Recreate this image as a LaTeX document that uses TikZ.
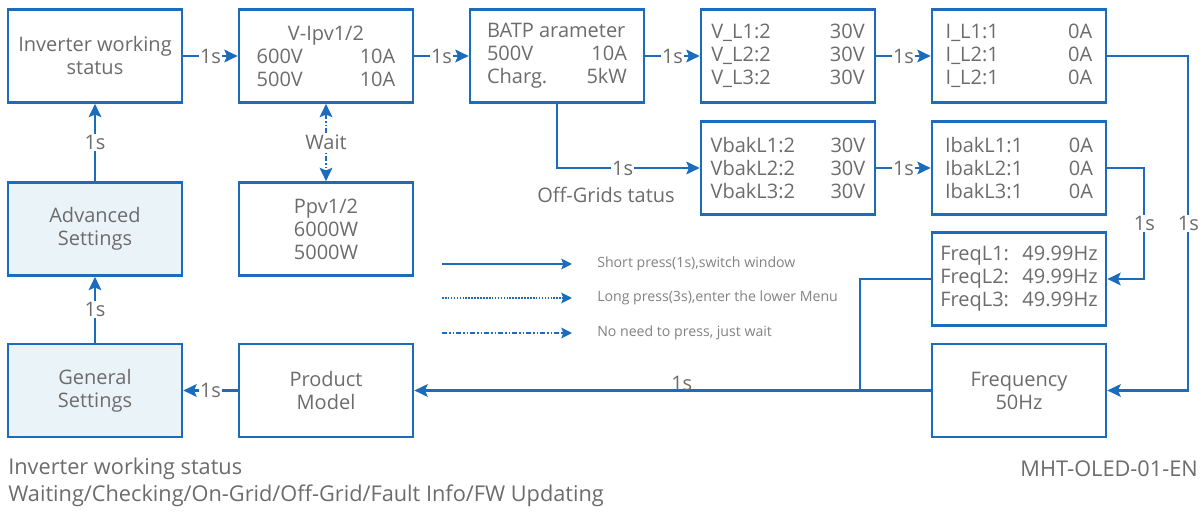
\documentclass[tikz,border=0pt]{standalone}
\usepackage{fontspec}
\setmainfont{Open Sans}
\usetikzlibrary{arrows.meta}
\definecolor{lblue}{RGB}{28,108,190}
\definecolor{tgray}{RGB}{108,108,108}
\definecolor{lgray}{RGB}{130,130,130}
\definecolor{pfill}{RGB}{234,244,248}
\newcommand\LR[3]{\hbox to #1pt{#2\hfil #3}}
\begin{document}
\begin{tikzpicture}[x=0.75pt,y=-0.75pt,
  box/.style={draw=lblue, line width=2pt, minimum width=130.5pt, minimum height=69.75pt,
    inner sep=0pt, align=center, text=tgray, font=\fontsize{15}{17.25}\selectfont},
  pale/.style={box, fill=pfill},
  conn/.style={draw=lblue, line width=1.6pt, -{Stealth[length=10pt,width=9.5pt,inset=2pt]}},
  wire/.style={draw=lblue, line width=1.6pt},
  lab/.style={fill=white, inner sep=1pt, text=tgray, font=\fontsize{15}{17}\selectfont},
  legtxt/.style={anchor=west, text=lgray, font=\fontsize{10.6}{12}\selectfont, inner sep=0pt},
  legarrow/.style={draw=lblue, line width=1.4pt, -{Stealth[length=8pt,width=8pt,inset=1.5pt]}},
  dashdotdot/.style={dash pattern=on 4pt off 1.5pt on 1pt off 1.5pt on 1pt off 1.5pt},
  denseDots/.style={dash pattern=on 1.2pt off 1pt},
  plain/.style={text=tgray, inner sep=0pt}
]
\useasboundingbox (0,0) rectangle (1204,513);
\fill[white] (0,0) rectangle (1204,513);

% boxes
\node[box]  (inv)  at (95,56)   {Inverter working\\status};
\node[box]  (vipv) at (326,56)  {V-Ipv1/2\\\LR{104}{600V}{10A}\\\LR{104}{500V}{10A}};
\node[box]  (bat)  at (557,56)  {\LR{105}{BATP arameter}{}\\\LR{105}{500V}{10A}\\\LR{105}{Charg.}{5kW}};
\node[box]  (vl)   at (788,56)  {\LR{115}{V\_L1:2}{30V}\\\LR{115}{V\_L2:2}{30V}\\\LR{115}{V\_L3:2}{30V}};
\node[box]  (il)   at (1019,56) {\LR{110}{I\_L1:1}{0A}\\\LR{110}{I\_L2:1}{0A}\\\LR{110}{I\_L2:1}{0A}};
\node[box]  (vbak) at (788,168) {\LR{116}{VbakL1:2}{30V}\\\LR{116}{VbakL2:2}{30V}\\\LR{116}{VbakL3:2}{30V}};
\node[box]  (ibak) at (1019,168){\LR{111}{IbakL1:1}{0A}\\\LR{111}{IbakL2:1}{0A}\\\LR{111}{IbakL3:1}{0A}};
\node[box]  (freql) at (1019,279){\LR{118}{FreqL1:}{49.99Hz}\\\LR{118}{FreqL2:}{49.99Hz}\\\LR{118}{FreqL3:}{49.99Hz}};
\node[box]  (freq) at (1019,390.5){Frequency\\50Hz};
\node[box]  (pm)   at (326,390.5) {Product\\Model};
\node[pale] (gen)  at (95,390.5)  {General\\Settings};
\node[pale] (adv)  at (95,229)    {Advanced\\Settings};
\node[box]  (ppv)  at (326,229)   {Ppv1/2\\6000W\\5000W};

% connectors
\draw[conn] (inv) -- node[lab]{1s} (vipv);
\draw[conn] (vipv) -- node[lab]{1s} (bat);
\draw[conn] (bat) -- node[lab]{1s} (vl);
\draw[conn] (vl) -- node[lab]{1s} (il);
\draw[conn] (vbak) -- node[lab]{1s} (ibak);
\draw[conn] (bat.south) |- node[lab,pos=0.73]{1s} (vbak.west);
\draw[conn] (il.east) -- ++(81,0) |- node[lab,pos=0.25]{1s} (freq.east);
\draw[conn] (ibak.east) -- ++(37,0) |- node[lab,pos=0.25]{1s} (freql.east);
\coordinate (j) at (860,390.5);
\draw[conn] (freql.west) -| (j) -- node[above, pos=0.4, inner sep=0pt, yshift=-1pt, text=tgray, font=\fontsize{15}{17}\selectfont]{1s} (pm.east);
\draw[wire] (freq.west) -- (j);
\draw[conn] (pm) -- node[lab]{1s} (gen);
\draw[conn] (gen) -- node[lab]{1s} (adv);
\draw[conn] (adv) -- node[lab]{1s} (inv);
\draw[wire, dashdotdot, {Stealth[length=10pt,width=9.5pt,inset=2pt]}-{Stealth[length=10pt,width=9.5pt,inset=2pt]}] (vipv) -- node[lab]{Wait} (ppv);

% off-grid label
\node[plain, font=\fontsize{15}{17}\selectfont] (offg) at (606,195) {Off-Grids tatus};

% legend
\coordinate (la1) at (442,264); \coordinate (lb1) at (572,264);
\coordinate (la2) at (442,298); \coordinate (lb2) at (572,298);
\coordinate (la3) at (442,333); \coordinate (lb3) at (572,333);
\draw[legarrow] (la1) -- (lb1);
\draw[legarrow, denseDots] (la2) -- (lb2);
\draw[legarrow, dashdotdot] (la3) -- (lb3);
\node[legtxt] (t1) at (597,264) {Short press(1s),switch window};
\node[legtxt] (t2) at (597,298) {Long press(3s),enter the lower Menu};
\node[legtxt] (t3) at (597,333) {No need to press, just wait};

% footer
\node[plain, anchor=west, font=\fontsize{16.3}{18}\selectfont] (f1) at (8,469) {Inverter working status};
\node[plain, anchor=west, font=\fontsize{16.3}{18}\selectfont] (f2) at (8,496) {Waiting/Checking/On-Grid/Off-Grid/Fault Info/FW Updating};
\node[plain, anchor=east, font=\fontsize{16.3}{18}\selectfont] (f3) at (1198,469) {MHT-OLED-01-EN};
\end{tikzpicture}
\end{document}
